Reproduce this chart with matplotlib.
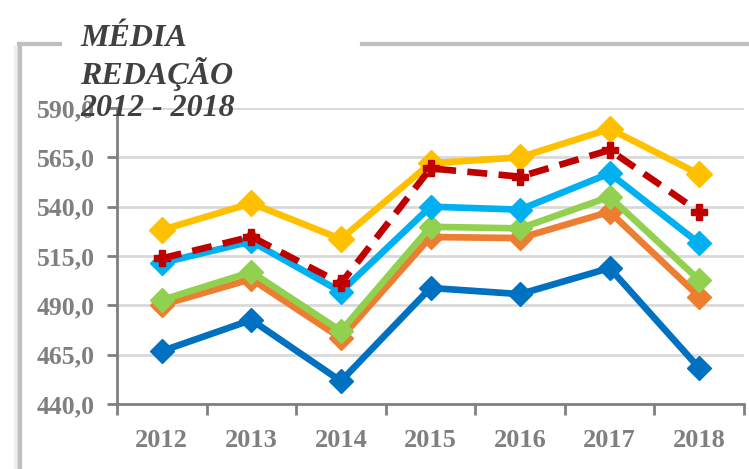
import matplotlib.pyplot as plt
from matplotlib.lines import Line2D
import numpy as np

#данные
anos = ['2012', '2013', '2014', '2015', '2016', '2017', '2018']
s_azul = [466.8, 482.6, 451.6, 498.8, 495.7, 508.9, 458.2]
s_laranja = [490.2, 503.3, 473.4, 524.6, 524.1, 537.4, 494.4]
s_verde = [492.7, 506.9, 477.0, 529.8, 529.0, 545.0, 502.8]
s_azul_claro = [511.5, 522.4, 496.9, 540.0, 538.5, 556.9, 521.4]
s_amarelo = [528.2, 541.7, 523.6, 562.0, 565.0, 579.4, 556.5]
s_vermelho = [513.8, 524.8, 501.1, 559.4, 555.2, 568.7, 537.4]

fig = plt.figure(figsize=(7.49, 4.69), dpi=100)
ax = fig.add_axes([117/749, 65/469, 627/749, 296/469])

x = np.arange(len(anos))
lw = 4.8
ax.plot(x, s_azul, color='#0070C0', lw=lw, marker='D', ms=12, zorder=3)
ax.plot(x, s_laranja, color='#ED7D31', lw=lw, marker='D', ms=12, zorder=3)
ax.plot(x, s_verde, color='#92D050', lw=lw, marker='D', ms=12, zorder=3)
ax.plot(x, s_azul_claro, color='#00B0F0', lw=lw, marker='D', ms=12, zorder=3)
ax.plot(x, s_amarelo, color='#FFC000', lw=lw, marker='D', ms=13, zorder=3)
ax.plot(x, s_vermelho, color='#C00000', lw=lw, marker='P', ms=12,
        linestyle=(0, (3.0, 1.7)), zorder=4)

#оси
ax.set_xlim(-0.5, len(anos) - 0.5)
ax.set_ylim(440, 590)
ax.set_yticks(np.arange(440, 591, 25))
ax.set_yticklabels([('%.1f' % v).replace('.', ',') for v in np.arange(440, 591, 25)])
ax.set_xticks(x)
ax.set_xticklabels(anos)
ax.set_xticks(np.arange(-0.5, len(anos)), minor=True)
ax.tick_params(axis='x', which='major', length=0, pad=18)
ax.tick_params(axis='x', which='minor', length=8, width=2, color='#808080', direction='out')
ax.tick_params(axis='y', length=7, width=2, color='#808080', pad=9)
for lab in ax.get_xticklabels():
    lab.set_fontsize(19)
for lab in ax.get_yticklabels():
    lab.set_fontsize(18.5)
for lab in ax.get_xticklabels() + ax.get_yticklabels():
    lab.set_family('Liberation Serif')
    lab.set_weight('bold')
    lab.set_color('#7F7F7F')

ax.grid(axis='y', color='#D9D9D9', lw=2)
ax.set_axisbelow(True)
for s in ['top', 'right']:
    ax.spines[s].set_visible(False)
ax.spines['left'].set_color('#808080')
ax.spines['bottom'].set_color('#808080')
ax.spines['left'].set_linewidth(2)
ax.spines['bottom'].set_linewidth(2)

#рамка с тенью
W, H = 749, 469
for i, a in enumerate([0.08, 0.15, 0.25]):
    fig.add_artist(Line2D([(14 + 2*i)/W]*2, [0, (H - 46 - i)/H], color='#999999', alpha=a, lw=2))
fig.add_artist(Line2D([20/W, 20/W], [0, (H - 44)/H], color='#BFBFBF', lw=3))
fig.add_artist(Line2D([19/W, 60/W], [(H - 44)/H]*2, color='#BFBFBF', lw=3))
fig.add_artist(Line2D([362/W, 1], [(H - 44)/H]*2, color='#BFBFBF', lw=3))

#заголовок
fig.text(80/W, 1 - 24/H, 'MÉDIA\nREDAÇÃO\n2012 - 2018', ha='left', va='top',
         fontsize=23, family='Liberation Serif', weight='bold', style='italic',
         color='#404040', linespacing=1.15)

fig.savefig('out.png', dpi=100)
